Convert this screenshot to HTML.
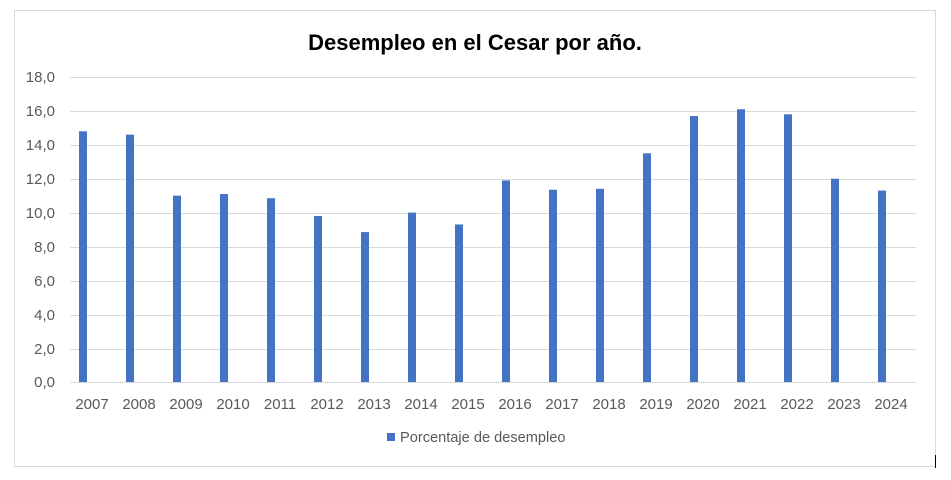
<!DOCTYPE html><html><head><style>body{margin:0;background:#fff}</style></head><body>
<svg width="951" height="475" xmlns="http://www.w3.org/2000/svg" font-family="Liberation Sans, sans-serif">
<rect x="0" y="0" width="951" height="475" fill="#fff"/>
<rect x="14.5" y="10.5" width="921" height="456" fill="none" stroke="#d9d9d9"/>
<text x="475" y="50" text-anchor="middle" font-size="22" font-weight="bold" fill="#000">Desempleo en el Cesar por año.</text>
<g stroke="#d9d9d9" stroke-width="1">
<line x1="70" x2="916" y1="77.5" y2="77.5"/><line x1="70" x2="916" y1="111.5" y2="111.5"/>
<line x1="70" x2="916" y1="145.5" y2="145.5"/><line x1="70" x2="916" y1="179.5" y2="179.5"/>
<line x1="70" x2="916" y1="213.5" y2="213.5"/><line x1="70" x2="916" y1="247.5" y2="247.5"/>
<line x1="70" x2="916" y1="281.5" y2="281.5"/><line x1="70" x2="916" y1="315.5" y2="315.5"/>
<line x1="70" x2="916" y1="349.5" y2="349.5"/><line x1="70" x2="916" y1="382.5" y2="382.5"/>
</g>
<g font-size="15" fill="#595959" text-anchor="end">
<text x="55" y="82">18,0</text><text x="55" y="116">16,0</text><text x="55" y="150">14,0</text>
<text x="55" y="184">12,0</text><text x="55" y="218">10,0</text><text x="55" y="252">8,0</text>
<text x="55" y="286">6,0</text><text x="55" y="320">4,0</text><text x="55" y="354">2,0</text><text x="55" y="387">0,0</text>
</g>
<g id="bars" fill="#4472c4"></g>
<g id="lbl" font-size="15" fill="#595959" text-anchor="middle"></g>
<rect x="387" y="433" width="8" height="8" fill="#4472c4"/>
<text x="400" y="442" font-size="14.6" fill="#595959">Porcentaje de desempleo</text>
<line x1="935.5" y1="455" x2="935.5" y2="468" stroke="#000"/>
<script>
var v=[14.8,14.6,11.0,11.1,10.85,9.8,8.85,10.0,9.3,11.9,11.35,11.4,13.5,15.7,16.1,15.8,12.0,11.3];
var b=document.getElementById('bars'),l=document.getElementById('lbl'),ns='http://www.w3.org/2000/svg';
v.forEach(function(d,i){var x=79+i*47,h=d*16.94;var r=document.createElementNS(ns,'rect');
r.setAttribute('x',x);r.setAttribute('y',382-h);r.setAttribute('width',8);r.setAttribute('height',h);b.appendChild(r);
var t=document.createElementNS(ns,'text');t.setAttribute('x',x+13);t.setAttribute('y',409);t.textContent=2007+i;l.appendChild(t);});
</script>
</svg></body></html>
